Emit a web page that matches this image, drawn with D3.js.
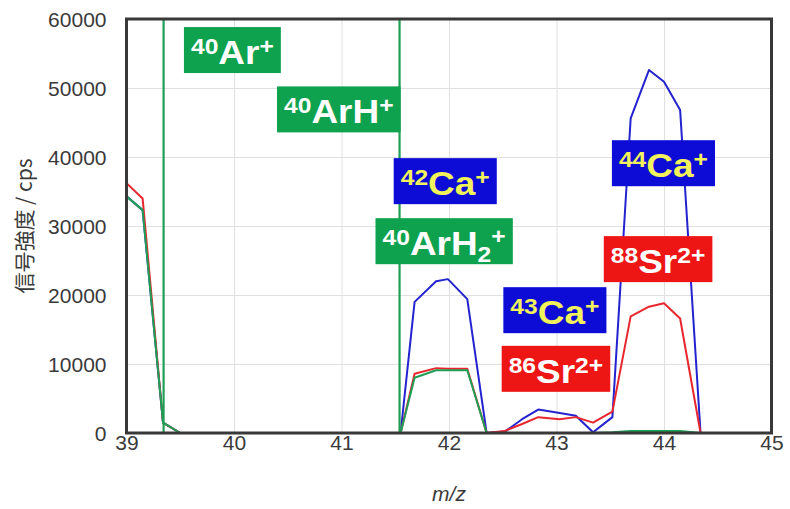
<!DOCTYPE html>
<html>
<head>
<meta charset="utf-8">
<script src="https://cdn.jsdelivr.net/npm/d3@7"></script>
<style>
  body { margin: 0; background: #fff; }
  svg { display: block; }
  .grid line { stroke: #e0e0e0; stroke-width: 1; }
  .grid .domain { display: none; }
  .axis text { font-family: "Liberation Sans", Arial, sans-serif; font-size: 21px; fill: #3a3a3a; }
  .axis .domain, .axis line { display: none; }
</style>
</head>
<body>
<svg id="chart" width="790" height="509"></svg>
<script>

// m/z sampling points
var mz = [39.00, 39.15, 39.34, 39.50, 41.40, 41.55, 41.68, 41.88, 41.99, 42.17, 42.35,
          42.52, 42.68, 42.83, 43.03, 43.18, 43.34, 43.52, 43.69, 43.86, 44.00, 44.15,
          44.34, 44.52, 45.00];

// Ca (blue)
var caCps = [34300, 32300, 1500, 0, 0, 0, 19000, 22000, 22300, 19400, 0,
             200, 2000, 3400, 2900, 2500, 100, 2300, 45600, 52600, 50900, 46800,
             0, 0, 0];

// Sr (red)
var srCps = [36200, 34000, 1500, 0, 0, 0, 8600, 9400, 9300, 9300, 0,
             300, 1300, 2300, 2000, 2300, 1500, 3100, 16900, 18300, 18800, 16600,
             0, 0, 0];

// Ar (green)
var arCps = [34300, 32300, 1500, 0, 0, 0, 8000, 9100, 9100, 9100, 0,
             0, 0, 0, 0, 0, 0, 100, 300, 300, 300, 300,
             0, 0, 0];

// off-scale Ar peaks (drawn as vertical lines)
var arOffScale = [39.345, 41.54];

var xTicks = [39, 40, 41, 42, 43, 44, 45];
var yTicks = [0, 10000, 20000, 30000, 40000, 50000, 60000];


var svg = d3.select('#chart');

var marginTop = 19,
    marginBottom = 76,
    marginLeft = 126.5,
    marginRight = 18.5;

var width = +svg.attr('width') - marginLeft - marginRight,
    height = +svg.attr('height') - marginTop - marginBottom;

var x = d3.scaleLinear().domain([39, 45]).range([0, width]);
var y = d3.scaleLinear().domain([0, 60000]).range([height, 0]);

var el = svg.append('g')
    .attr('transform', 'translate(' + marginLeft + ',' + marginTop + ')');

el.append('clipPath').attr('id', 'plotclip')
  .append('rect').attr('width', width).attr('height', height);

// grid
el.append('g')
    .attr('class', 'grid')
    .attr('transform', 'translate(0,' + height + ')')
    .call(d3.axisBottom(x).tickValues(xTicks).tickSize(-height).tickFormat(''));
el.append('g')
    .attr('class', 'grid')
    .call(d3.axisLeft(y).tickValues(yTicks).tickSize(-width).tickFormat(''));

// series
var series = [
  { values: caCps, color: '#2323cf' },
  { values: srCps, color: '#e8262e' },
  { values: arCps, color: '#1f9e55' }
];

var line = d3.line()
    .x(function(d) { return x(d[0]); })
    .y(function(d) { return y(d[1]); });

var plot = el.append('g').attr('clip-path', 'url(#plotclip)');

series.forEach(function(s) {
  plot.append('path')
      .datum(d3.zip(mz, s.values))
      .attr('d', line)
      .style('fill', 'none')
      .style('stroke', s.color)
      .style('stroke-width', 2)
      .style('stroke-linejoin', 'round');
});

plot.selectAll('line.ar')
    .data(arOffScale)
  .enter().append('line')
    .attr('class', 'ar')
    .attr('x1', function(d) { return x(d); })
    .attr('x2', function(d) { return x(d); })
    .attr('y1', y(0))
    .attr('y2', y(60000))
    .style('stroke', '#1f9e55')
    .style('stroke-width', 2.2);

// frame
el.append('rect')
    .attr('width', width)
    .attr('height', height)
    .style('fill', 'none')
    .style('stroke', '#383838')
    .style('stroke-width', 3);

// axes
var gx = el.append('g')
    .attr('class', 'axis')
    .attr('transform', 'translate(0,' + height + ')')
    .call(d3.axisBottom(x).tickValues(xTicks).tickSize(0).tickFormat(d3.format('d')));
gx.selectAll('text').attr('dy', null).attr('y', 17);

var gy = el.append('g')
    .attr('class', 'axis')
    .call(d3.axisLeft(y).tickValues(yTicks).tickSize(0).tickFormat(d3.format('d')));
gy.selectAll('text').attr('x', -20).attr('dy', '0.35em');

// axis titles
svg.append('text')
    .attr('x', marginLeft + width / 2)
    .attr('y', 501)
    .attr('text-anchor', 'middle')
    .style('font-family', '"Liberation Sans", Arial, sans-serif')
    .style('font-style', 'italic')
    .style('font-size', '21px')
    .style('fill', '#3a3a3a')
    .text('m/z');

svg.append('text')
    .attr('transform', 'translate(32,' + 226 + ') rotate(-90)')
    .attr('text-anchor', 'middle')
    .style('font-family', '"Noto Sans CJK JP", "Liberation Sans", sans-serif')
    .style('font-size', '21px')
    .style('fill', '#3a3a3a')
    .text('信号強度 / cps');


// peak labels: [superscript, body, subscript, superscript]
var labels = [
  { parts: ['40', 'Ar', '', '+'],   at: [39.985, 55500], fill: '#0fa24e', color: '#ffffff' },
  { parts: ['40', 'ArH', '', '+'],  at: [40.975, 46900], fill: '#0fa24e', color: '#ffffff' },
  { parts: ['42', 'Ca', '', '+'],   at: [41.965, 36500], fill: '#0c0cd6', color: '#f2f25a' },
  { parts: ['40', 'ArH', '2', '+'], at: [41.955, 27800], fill: '#0fa24e', color: '#ffffff' },
  { parts: ['43', 'Ca', '', '+'],   at: [42.985, 17800], fill: '#0c0cd6', color: '#f2f25a' },
  { parts: ['86', 'Sr', '', '2+'],  at: [42.995, 9300],  fill: '#ee1515', color: '#ffffff' },
  { parts: ['44', 'Ca', '', '+'],   at: [43.995, 39100], fill: '#0c0cd6', color: '#f2f25a' },
  { parts: ['88', 'Sr', '', '2+'],  at: [43.945, 25200], fill: '#ee1515', color: '#ffffff' }
];

var boxH = 46, padX = 7, stretch = 1.12;

labels.forEach(function(l) {
  var g = el.append('g')
      .attr('transform', 'translate(' + x(l.at[0]) + ',' + y(l.at[1]) + ')');
  var box = g.append('rect');
  var t = g.append('text')
      .style('font-family', '"Liberation Sans", Arial, sans-serif')
      .style('font-weight', 'bold')
      .style('fill', l.color);
  t.append('tspan').attr('dy', -10).style('font-size', '22px').text(l.parts[0]);
  t.append('tspan').attr('dy', 10).style('font-size', '33px').text(l.parts[1]);
  if (l.parts[2]) {
    t.append('tspan').attr('dy', 7).style('font-size', '22px').text(l.parts[2]);
    t.append('tspan').attr('dy', -18).style('font-size', '22px').text(l.parts[3]);
  } else {
    t.append('tspan').attr('dy', -10).style('font-size', '22px').text(l.parts[3]);
  }
  var w = t.node().getBBox().width * stretch;
  t.attr('transform', 'translate(' + (-w / 2) + ',14) scale(' + stretch + ',1)');
  box.attr('x', -w / 2 - padX)
     .attr('y', -boxH / 2)
     .attr('width', w + 2 * padX)
     .attr('height', boxH)
     .style('fill', l.fill);
});

</script>
</body>
</html>
